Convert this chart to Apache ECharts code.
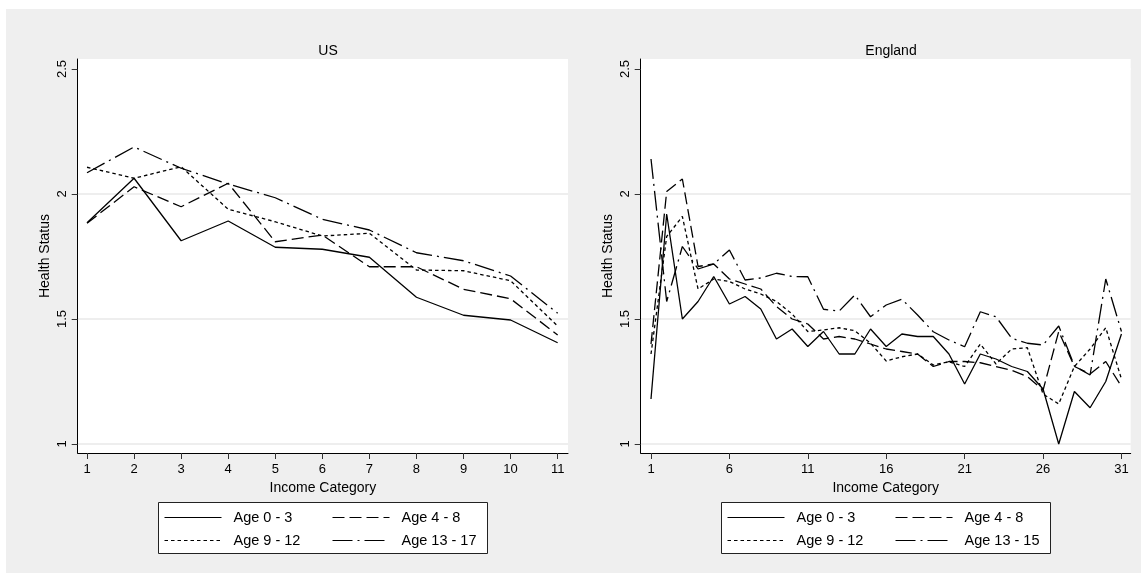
<!DOCTYPE html>
<html>
<head>
<meta charset="utf-8">
<script src="https://cdn.jsdelivr.net/npm/echarts@6/dist/echarts.min.js"></script>
<style>
html,body{margin:0;padding:0;background:#fff;}
#bg{position:absolute;left:6px;top:9px;width:1135px;height:564px;background:#efefef;}
#chart{position:absolute;left:0;top:0;width:1147px;height:581px;}
</style>
</head>
<body>
<div id="bg"></div>
<div id="chart"></div>
<script>
// ---- data ----
const usIncome = [1,2,3,4,5,6,7,8,9,10,11];
const usAge0_3   = [1.885, 2.063, 1.813, 1.892, 1.787, 1.779, 1.747, 1.587, 1.515, 1.496, 1.405];
const usAge4_8   = [1.883, 2.029, 1.949, 2.043, 1.809, 1.836, 1.709, 1.709, 1.619, 1.581, 1.436];
const usAge9_12  = [2.107, 2.063, 2.109, 1.939, 1.889, 1.832, 1.843, 1.696, 1.693, 1.653, 1.472];
const usAge13_17 = [2.085, 2.188, 2.103, 2.040, 1.985, 1.899, 1.856, 1.765, 1.733, 1.672, 1.523];

const engIncome = [1,2,3,4,5,6,7,8,9,10,11,12,13,14,15,16,17,18,19,20,21,22,23,24,25,26,27,28,29,30,31];
const engAge0_3   = [1.18, 1.92, 1.50, 1.57, 1.67, 1.56, 1.59, 1.54, 1.42, 1.46, 1.39, 1.45, 1.36, 1.36, 1.46, 1.39, 1.44, 1.43, 1.43, 1.36, 1.24, 1.36, 1.34, 1.31, 1.29, 1.22, 1.00, 1.21, 1.145, 1.25, 1.44];
const engAge4_8   = [1.40, 2.01, 2.06, 1.71, 1.72, 1.66, 1.64, 1.62, 1.55, 1.50, 1.48, 1.42, 1.43, 1.42, 1.40, 1.38, 1.37, 1.36, 1.31, 1.33, 1.33, 1.325, 1.31, 1.295, 1.27, 1.215, 1.45, 1.31, 1.28, 1.33, 1.23];
const engAge9_12  = [1.36, 1.83, 1.91, 1.62, 1.66, 1.65, 1.62, 1.60, 1.57, 1.52, 1.45, 1.456, 1.465, 1.453, 1.403, 1.332, 1.349, 1.36, 1.316, 1.329, 1.31, 1.40, 1.32, 1.38, 1.385, 1.20, 1.16, 1.31, 1.38, 1.465, 1.26];
const engAge13_15 = [2.14, 1.57, 1.79, 1.70, 1.72, 1.776, 1.656, 1.664, 1.683, 1.67, 1.669, 1.539, 1.532, 1.596, 1.509, 1.556, 1.579, 1.516, 1.449, 1.416, 1.389, 1.529, 1.509, 1.423, 1.403, 1.396, 1.472, 1.312, 1.276, 1.66, 1.45];

const usTicks = [1,2,3,4,5,6,7,8,9,10,11];
const engTicks = [1,6,11,16,21,26,31];
const yTicks = [1, 1.5, 2, 2.5];

const usNames = ['Age 0 - 3', 'Age 4 - 8', 'Age 9 - 12', 'Age 13 - 17'];
const engNames = ['Age 0 - 3 ', 'Age 4 - 8 ', 'Age 9 - 12 ', 'Age 13 - 15'];

// ---- styles ----
const FONT = '"Liberation Sans", Arial, sans-serif';
const dashStyles = ['solid', [12, 5], [3.5, 3], [20, 5, 2, 5]];

function pairs(xs, ys) { return xs.map((x, i) => [x, ys[i]]); }

function mkSeries(name, xs, ys, k, axis) {
  return {
    type: 'line', name: name, xAxisIndex: axis, yAxisIndex: axis,
    data: pairs(xs, ys), symbol: 'none', animation: false,
    lineStyle: { color: '#000', width: 1.3, type: dashStyles[k] },
    itemStyle: { color: '#000' }
  };
}

function xAxis(grid, min, max, ticks) {
  return {
    type: 'value', gridIndex: grid, min: min, max: max,
    name: 'Income Category', nameLocation: 'middle', nameGap: 26,
    nameTextStyle: { fontFamily: FONT, fontSize: 14, color: '#000' },
    axisLine: { show: true, lineStyle: { color: '#000', width: 1 } },
    axisTick: { show: true, length: 6, customValues: ticks, lineStyle: { color: '#333' } },
    axisLabel: { customValues: ticks, margin: 10, fontFamily: FONT, fontSize: 13, color: '#000' },
    splitLine: { show: false }
  };
}
function yAxis(grid) {
  return {
    type: 'value', gridIndex: grid, min: 0.964, max: 2.54,
    name: 'Health Status', nameLocation: 'middle', nameGap: 26,
    nameTextStyle: { fontFamily: FONT, fontSize: 14, color: '#000' },
    axisLine: { show: true, lineStyle: { color: '#000', width: 1 } },
    axisTick: { show: true, length: 6, customValues: yTicks, lineStyle: { color: '#333' } },
    axisLabel: { customValues: yTicks, rotate: 90, margin: 9, fontFamily: FONT, fontSize: 13, color: '#000' },
    splitLine: { show: true, lineStyle: { color: ['#e9e9e9', '#e9e9e9', '#e9e9e9', '#ffffff'], width: 1.5 } }
  };
}
function legend(names, left, top) {
  return {
    orient: 'vertical', left: left, top: top, padding: 0,
    itemWidth: 57, itemHeight: 14, itemGap: 8, data: names,
    selectedMode: false,
    itemStyle: { opacity: 0 },
    lineStyle: { width: 1 },
    textStyle: { fontFamily: FONT, fontSize: 14.5, color: '#000', padding: [0, 0, 0, 7] }
  };
}

const chart = echarts.init(document.getElementById('chart'), null, { renderer: 'canvas' });
chart.setOption({
  backgroundColor: 'transparent',
  animation: false,
  title: [
    { text: 'US', left: 323, top: 39, textAlign: 'center', textStyle: { fontFamily: FONT, fontSize: 14, fontWeight: 'normal', color: '#000' } },
    { text: 'England', left: 886, top: 39, textAlign: 'center', textStyle: { fontFamily: FONT, fontSize: 14, fontWeight: 'normal', color: '#000' } }
  ],
  grid: [
    { left: 77.7, top: 59, width: 490.3, height: 394, show: true, backgroundColor: '#fff', borderWidth: 0 },
    { left: 640.7, top: 59, width: 490, height: 394, show: true, backgroundColor: '#fff', borderWidth: 0 }
  ],
  xAxis: [xAxis(0, 0.802, 11.22, usTicks), xAxis(1, 0.343, 31.59, engTicks)],
  yAxis: [yAxis(0), yAxis(1)],
  legend: [
    legend([usNames[0], usNames[2]], 164, 510),
    legend([usNames[1], usNames[3]], 332, 510),
    legend([engNames[0], engNames[2]], 727, 510),
    legend([engNames[1], engNames[3]], 895, 510)
  ],
  graphic: [
    { type: 'rect', left: 158, top: 502, shape: { width: 329, height: 51 }, style: { fill: '#fff', stroke: '#222', lineWidth: 1 }, z: -1 },
    { type: 'rect', left: 721, top: 502, shape: { width: 329, height: 51 }, style: { fill: '#fff', stroke: '#222', lineWidth: 1 }, z: -1 }
  ],
  series: [
    mkSeries(usNames[0], usIncome, usAge0_3, 0, 0),
    mkSeries(usNames[1], usIncome, usAge4_8, 1, 0),
    mkSeries(usNames[2], usIncome, usAge9_12, 2, 0),
    mkSeries(usNames[3], usIncome, usAge13_17, 3, 0),
    mkSeries(engNames[0], engIncome, engAge0_3, 0, 1),
    mkSeries(engNames[1], engIncome, engAge4_8, 1, 1),
    mkSeries(engNames[2], engIncome, engAge9_12, 2, 1),
    mkSeries(engNames[3], engIncome, engAge13_15, 3, 1)
  ]
});
</script>
</body>
</html>
